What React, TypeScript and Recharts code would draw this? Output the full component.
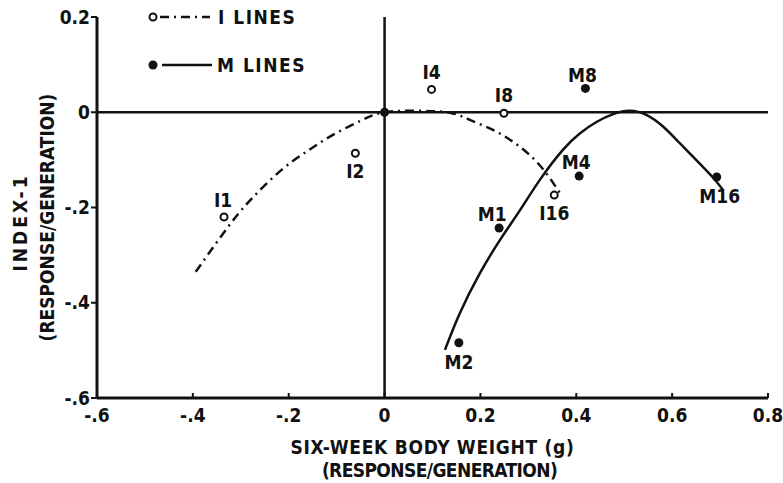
import {
  ComposedChart,
  Line,
  Scatter,
  XAxis,
  YAxis,
  ReferenceLine,
  Legend,
} from 'recharts'

// dash-dot regression curve for the I lines
const iCurveX = [-0.394, -0.32, -0.272, -0.216, -0.159, -0.105, -0.048, 0, 0.07, 0.136, 0.178, 0.226, 0.268, 0.303, 0.335, 0.366]
const iCurveY = [-0.335, -0.232, -0.176, -0.122, -0.08, -0.046, -0.017, 0, 0.003, -0.001, -0.016, -0.037, -0.062, -0.09, -0.125, -0.17]

// solid curve for the M lines
const mCurveX = [0.126, 0.157, 0.199, 0.241, 0.283, 0.324, 0.372, 0.408, 0.443, 0.477, 0.512, 0.547, 0.581, 0.616, 0.651, 0.686, 0.706]
const mCurveY = [-0.499, -0.422, -0.338, -0.268, -0.205, -0.142, -0.079, -0.044, -0.02, -0.004, 0.003, -0.006, -0.03, -0.065, -0.101, -0.138, -0.163]

// observed lines
const iNames = ['I1', 'I2', 'I4', 'I8', 'I16']
const iX = [-0.335, -0.061, 0.098, 0.249, 0.354]
const iY = [-0.22, -0.086, 0.048, -0.002, -0.174]

const mNames = ['M1', 'M2', 'M4', 'M8', 'M16']
const mX = [0.239, 0.155, 0.406, 0.419, 0.693]
const mY = [-0.243, -0.484, -0.134, 0.05, -0.136]

const originX = [0]
const originY = [0]

const xTicks = [-0.6, -0.4, -0.2, 0, 0.2, 0.4, 0.6, 0.8]
const yTicks = [-0.6, -0.4, -0.2, 0, 0.2]

const FONT = "'Liberation Sans Narrow', 'DejaVu Sans Condensed', 'Arial Narrow', sans-serif"

const zip = (xs: number[], ys: number[]) => xs.map((x, i) => ({ x, y: ys[i] }))

const iCurve = zip(iCurveX, iCurveY)
const mCurve = zip(mCurveX, mCurveY)
const iPoints = iNames.map((name, i) => ({ name, x: iX[i], y: iY[i] }))
const mPoints = mNames.map((name, i) => ({ name, x: mX[i], y: mY[i] }))
const origin = zip(originX, originY)

// where each point label sits relative to its marker
const labelOffset: Record<string, [number, number]> = {
  I1: [-1, -17],
  I2: [0, 18],
  I4: [0, -17],
  I8: [0, -18],
  I16: [0, 18],
  M1: [-7, -14],
  M2: [0, 19],
  M4: [-3, -14],
  M8: [-3, -13],
  M16: [3, 19],
}

function fmtTick(v: number) {
  if (v === 0) return '0'
  if (v > 0) return v.toFixed(1)
  return '-' + Math.abs(v).toFixed(1).slice(1)
}

function PointLabel({ cx, cy, name }: { cx: number; cy: number; name: string }) {
  const [dx, dy] = labelOffset[name] ?? [0, -16]
  return (
    <text
      x={cx + dx}
      y={cy + dy + 7}
      textAnchor="middle"
      fontFamily={FONT}
      fontWeight="bold"
      fontSize={19}
      fill="#111"
    >
      {name}
    </text>
  )
}

function OpenDot(props: any) {
  const { cx, cy, payload } = props
  return (
    <g>
      <circle cx={cx} cy={cy} r={3.5} fill="#fff" stroke="#111" strokeWidth={2} />
      <PointLabel cx={cx} cy={cy} name={payload.name} />
    </g>
  )
}

function FilledDot(props: any) {
  const { cx, cy, payload } = props
  return (
    <g>
      <circle cx={cx} cy={cy} r={4.5} fill="#111" />
      {payload.name && <PointLabel cx={cx} cy={cy} name={payload.name} />}
    </g>
  )
}

function LegendBox() {
  const txt = { fontFamily: FONT, fontWeight: 'bold' as const, fontSize: 19, fill: '#111', letterSpacing: 1.5 }
  return (
    <svg width={220} height={85}>
      <circle cx={13} cy={17} r={3.5} fill="#fff" stroke="#111" strokeWidth={2} />
      <line x1={20} y1={17} x2={70} y2={17} stroke="#111" strokeWidth={2.5} strokeDasharray="9 5 2 5" />
      <text x={78} y={24} {...txt}>I LINES</text>
      <circle cx={13} cy={65} r={4.5} fill="#111" />
      <line x1={22} y1={65} x2={72} y2={65} stroke="#111" strokeWidth={2.5} />
      <text x={77} y={72} {...txt}>M LINES</text>
    </svg>
  )
}

function XTitle({ viewBox }: any) {
  const cx = viewBox.x + viewBox.width / 2
  const t = { fontFamily: FONT, fontWeight: 'bold' as const, fontSize: 19, fill: '#111', textAnchor: 'middle' as const }
  return (
    <g>
      <text x={cx} y={454} letterSpacing={0.7} {...t}>SIX-WEEK BODY WEIGHT (g)</text>
      <text x={cx + 7} y={477} letterSpacing={-0.6} {...t}>(RESPONSE/GENERATION)</text>
    </g>
  )
}

function YTitle({ viewBox }: any) {
  const cy = viewBox.y + viewBox.height / 2
  const t = { fontFamily: FONT, fontWeight: 'bold' as const, fontSize: 19, fill: '#111', textAnchor: 'middle' as const }
  return (
    <g>
      <text x={27} y={cy + 15} transform={`rotate(-90, 27, ${cy + 15})`} letterSpacing={3} {...t}>INDEX-1</text>
      <text x={54} y={cy + 10} transform={`rotate(-90, 54, ${cy + 10})`} letterSpacing={0} {...t}>(RESPONSE/GENERATION)</text>
    </g>
  )
}

export default function App() {
  const tickStyle = { fill: '#111', fontSize: 19, fontWeight: 'bold', fontFamily: FONT }
  return (
    <div style={{ position: 'absolute', left: 0, top: 0, background: '#fff' }}>
      <ComposedChart width={783} height={483} margin={{ top: 17, right: 15, bottom: 55, left: 37 }}>
        <XAxis
          type="number"
          dataKey="x"
          domain={[-0.6, 0.8]}
          ticks={xTicks}
          tickFormatter={fmtTick}
          tick={tickStyle}
          height={30}
          tickSize={-5}
          tickMargin={16}
          axisLine={{ stroke: '#111', strokeWidth: 3 }}
          tickLine={{ stroke: '#111', strokeWidth: 2 }}
          allowDataOverflow
          label={{ content: XTitle }}
        />
        <YAxis
          type="number"
          dataKey="y"
          domain={[-0.6, 0.2]}
          ticks={yTicks}
          tickFormatter={fmtTick}
          tick={tickStyle}
          width={60}
          tickSize={6}
          tickMargin={1}
          axisLine={{ stroke: '#111', strokeWidth: 3 }}
          tickLine={{ stroke: '#111', strokeWidth: 2 }}
          allowDataOverflow
          label={{ content: YTitle }}
        />
        <ReferenceLine y={0} stroke="#111" strokeWidth={2.5} />
        <ReferenceLine x={0} stroke="#111" strokeWidth={2.5} />
        <Legend
          layout="horizontal"
          verticalAlign="middle"
          align="center"
          wrapperStyle={{ top: 0, left: 140, width: 220, height: 85 }}
          content={() => <LegendBox />}
        />
        <Line
          data={iCurve}
          dataKey="y"
          type="natural"
          stroke="#111"
          strokeWidth={2.5}
          strokeDasharray="9 5 2 5"
          dot={false}
          activeDot={false}
          legendType="none"
          isAnimationActive={false}
        />
        <Line
          data={mCurve}
          dataKey="y"
          type="natural"
          stroke="#111"
          strokeWidth={2.5}
          dot={false}
          activeDot={false}
          legendType="none"
          isAnimationActive={false}
        />
        <Scatter data={iPoints} dataKey="y" shape={OpenDot} legendType="none" isAnimationActive={false} />
        <Scatter data={mPoints} dataKey="y" shape={FilledDot} legendType="none" isAnimationActive={false} />
        <Scatter data={origin} dataKey="y" shape={FilledDot} legendType="none" isAnimationActive={false} />
      </ComposedChart>
    </div>
  )
}
